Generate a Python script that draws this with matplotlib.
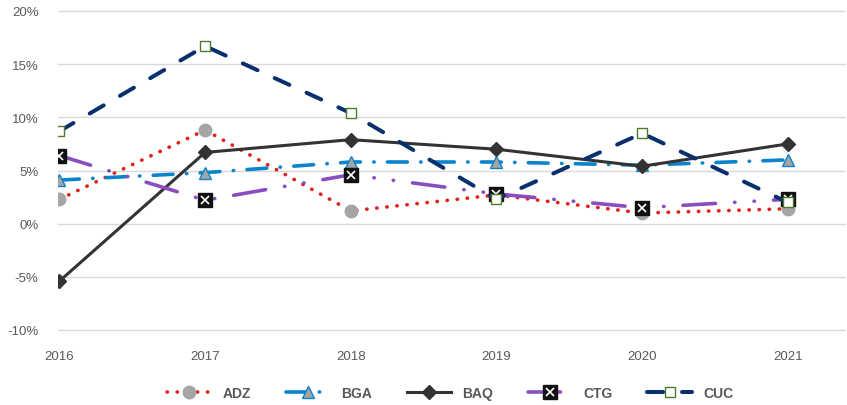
import matplotlib
matplotlib.use("Agg")
import matplotlib.pyplot as plt
from matplotlib.ticker import FuncFormatter

years = ["2016", "2017", "2018", "2019", "2020", "2021"]
adz = [2.3, 8.8, 1.2, 2.7, 1.0, 1.4]
bga = [4.1, 4.8, 5.8, 5.8, 5.5, 6.0]
baq = [-5.4, 6.7, 7.9, 7.0, 5.4, 7.5]
ctg = [6.4, 2.2, 4.6, 2.8, 1.5, 2.3]
cuc = [8.7, 16.7, 10.4, 2.3, 8.5, 2.0]
yticks = [-10, -5, 0, 5, 10, 15, 20]

plt.rcParams['font.family'] = ['Liberation Sans', 'DejaVu Sans']
fig = plt.figure(figsize=(8.47, 4.06), dpi=100)
ppu = (331 - 12) / 30.0
pad = 0.3
bot = 331 + pad * ppu
top = 12 - pad * ppu
ax = fig.add_axes([58/847, 1-bot/406, (846-58)/847, (bot-top)/406])
x = list(range(len(years)))

lw = 2.6
l1, = ax.plot(x, adz, color='#E0201B', lw=lw, linestyle=(0, (0.1, 2.7)), dash_capstyle='round',
              marker='o', markersize=9, markerfacecolor='#A5A5A5', markeredgecolor='#A5A5A5', label='ADZ', zorder=3)
l2, = ax.plot(x, bga, color='#0A84CD', lw=lw, linestyle=(0, (5.5, 3.7, 0.1, 3.7)), dash_capstyle='round',
              marker='^', markersize=9, markerfacecolor='#A5A5A5', markeredgecolor='#0A84CD', label='BGA', zorder=4)
l3, = ax.plot(x, baq, color='#333333', lw=2.2, linestyle='-',
              marker='D', markersize=7, markerfacecolor='#333333', markeredgecolor='#333333', label='BAQ', zorder=5)
l4, = ax.plot(x, ctg, color='#8A4DBF', lw=lw, linestyle=(0, (9, 5.3, 0.1, 5.3, 0.1, 5.3)), dash_capstyle='round',
              marker='s', markersize=10, markerfacecolor='#111111', markeredgecolor='#111111', label='CTG', zorder=6)
l4b, = ax.plot(x, ctg, linestyle='none', marker='x', markersize=6, markeredgewidth=1.2,
               color='white', zorder=6.5)
l5, = ax.plot(x, cuc, color='#08306E', lw=2.9, linestyle=(0, (4.0, 4.7)), dash_capstyle='round',
              marker='s', markersize=7, markerfacecolor='white', markeredgecolor='#4E7A2C', markeredgewidth=1.0,
              label='CUC', zorder=7)

ax.set_ylim(-10 - pad, 20 + pad)
ax.set_xlim(-0.01, 5.4)
ax.set_yticks(yticks)
ax.yaxis.set_major_formatter(FuncFormatter(lambda v, p: f"{int(v)}%"))
ax.set_xticks(x)
ax.set_xticklabels(years)
ax.grid(axis='y', color='#D9D9D9', lw=1.0)
ax.set_axisbelow(True)
for s in ax.spines.values():
    s.set_visible(False)
ax.tick_params(length=0, colors='#595959', labelsize=9.5)
ax.tick_params(axis='x', pad=12)
ax.tick_params(axis='y', pad=14)

leg = ax.legend([l1, l2, l3, (l4, l4b), l5], ['ADZ', 'BGA', 'BAQ', 'CTG', 'CUC'],
                loc='center', ncol=5, frameon=False, handlelength=3.2, columnspacing=2.5,
                prop={'weight': 'bold', 'size': 10})
leg.set_bbox_to_anchor((450/847, 1-394/406), transform=fig.transFigure)
for t in leg.get_texts():
    t.set_color('#595959')

fig.savefig('out.png', dpi=100)
